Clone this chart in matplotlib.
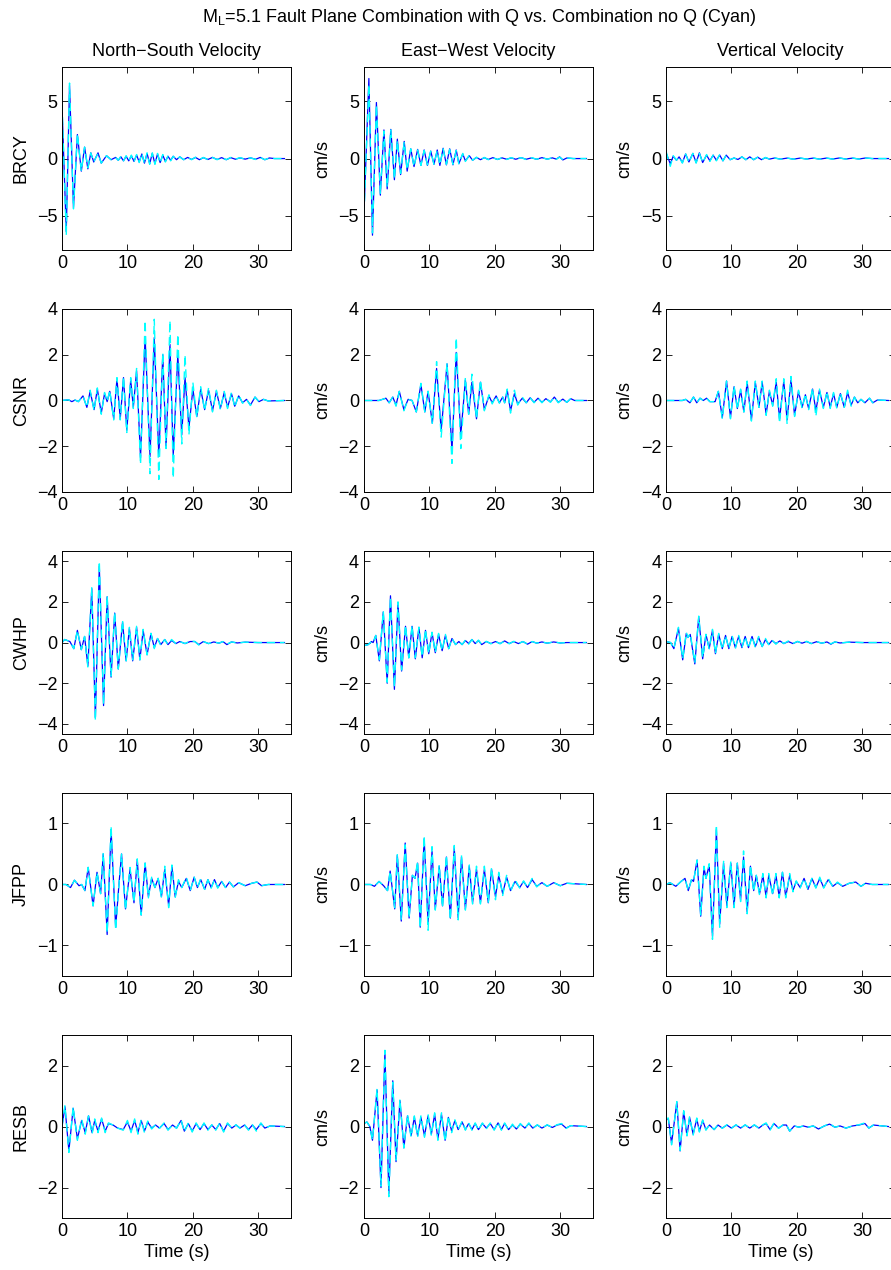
import matplotlib
matplotlib.use('Agg')
import matplotlib.pyplot as plt

plt.rcParams['font.family'] = ['Liberation Sans', 'DejaVu Sans']
plt.rcParams['font.size'] = 13
plt.rcParams['mathtext.fontset'] = 'custom'
plt.rcParams['mathtext.rm'] = 'Liberation Sans'
plt.rcParams['mathtext.default'] = 'regular'

stations = ['BRCY', 'CSNR', 'CWHP', 'JFPP', 'RESB']
col_titles = ['North\u2212South Velocity', 'East\u2212West Velocity', 'Vertical Velocity']
y_limits = [8, 4, 4.5, 1.5, 3]
y_ticks = [[-5, 0, 5], [-4, -2, 0, 2, 4], [-4, -2, 0, 2, 4], [-1, 0, 1], [-2, 0, 2]]
x_ticks = [0, 10, 20, 30]

# extrema of each trace: time (s), with Q (blue), no Q (cyan)
brcy_ns_t = [0, 0.65, 1.15, 1.75, 2.35, 2.95, 3.45, 3.95, 4.4, 4.85, 5.5, 6.0, 6.8, 7.5, 8.2, 8.6, 9.0, 9.4, 9.8, 10.2,
             10.6, 11.0, 11.4, 11.8, 12.2, 12.6, 13.0, 13.4, 13.8, 14.2, 14.6, 15.0, 15.4, 15.8, 16.2, 16.6, 17.0, 17.5,
             18.0, 18.6, 19.2, 19.8, 20.4, 21.0, 21.6, 22.3, 23.0, 23.7, 24.4, 25.1, 25.8, 26.5, 27.2, 28.0, 28.8, 29.6,
             30.3, 31.0, 31.7, 32.5, 34.0]
brcy_ns_q = [4.6, -6.4, 6.4, -4.3, 2.1, -1.1, 1.0, -0.9, 0.5, -0.3, 0.5, -0.4, 0.25, -0.1, 0.1, -0.15, 0.15, -0.2, 0.2,
             -0.2, 0.25, -0.25, 0.3, -0.3, 0.4, -0.4, 0.45, -0.45, 0.45, -0.45, 0.4, -0.35, 0.3, -0.25, 0.2, -0.15, 0.2,
             -0.1, 0.15, -0.1, 0.1, -0.08, 0.1, -0.1, 0.08, -0.08, 0.1, -0.08, 0.08, -0.1, 0.08, -0.06, 0.06, -0.05,
             0.06, -0.06, 0.1, -0.1, 0.05, 0.0, 0.0]
brcy_ns_nq = [4.8, -6.7, 6.6, -4.4, 2.2, -1.1, 1.0, -0.8, 0.5, -0.3, 0.45, -0.4, 0.25, -0.1, 0.1, -0.15, 0.2, -0.2, 0.25,
              -0.2, 0.3, -0.3, 0.35, -0.35, 0.45, -0.45, 0.5, -0.5, 0.5, -0.5, 0.45, -0.4, 0.35, -0.3, 0.25, -0.2, 0.2,
              -0.1, 0.15, -0.1, 0.1, -0.1, 0.12, -0.1, 0.1, -0.1, 0.1, -0.1, 0.1, -0.1, 0.1, -0.06, 0.08, -0.06, 0.06,
              -0.08, 0.1, -0.1, 0.05, 0.0, 0.0]

brcy_ew_t = [0, 0.75, 1.3, 1.9, 2.5, 3.05, 3.55, 4.1, 4.65, 5.1, 5.6, 6.15, 6.6, 7.15, 7.65, 8.2, 8.7, 9.2, 9.7, 10.2,
             10.7, 11.2, 11.6, 12.1, 12.6, 13.1, 13.6, 14.1, 14.5, 15.1, 15.5, 16.1, 16.6, 17.2, 17.8, 18.4, 19.0, 19.7,
             20.4, 21.1, 21.8, 22.5, 23.2, 24.0, 24.8, 25.6, 26.4, 27.2, 28.0, 28.8, 29.4, 29.9, 30.4, 31.0, 32.0, 34.0]
brcy_ew_q = [-4.8, 7.0, -6.7, 4.9, -3.2, 2.5, -2.65, 2.55, -1.85, 1.7, -1.4, 1.5, -1.1, 0.85, -0.7, 0.8, -0.6, 0.75,
             -0.6, 0.65, -0.5, 0.75, -0.6, 0.9, -0.55, 0.85, -0.55, 0.75, -0.45, 0.4, -0.2, 0.25, -0.15, 0.1, -0.1,
             0.08, -0.08, 0.08, -0.08, 0.06, -0.06, 0.06, -0.06, 0.08, -0.06, 0.06, -0.06, 0.08, -0.05, 0.06, -0.05,
             0.15, -0.12, 0.05, 0.0, 0.0]
brcy_ew_nq = [-4.9, 6.5, -6.5, 4.7, -3.1, 2.4, -2.5, 2.5, -1.8, 1.6, -1.3, 1.45, -1.0, 0.85, -0.7, 0.75, -0.6, 0.7,
              -0.55, 0.65, -0.5, 0.7, -0.55, 0.85, -0.5, 0.8, -0.5, 0.7, -0.45, 0.45, -0.25, 0.3, -0.15, 0.12, -0.12,
              0.1, -0.1, 0.08, -0.08, 0.08, -0.08, 0.08, -0.06, 0.08, -0.08, 0.08, -0.06, 0.1, -0.06, 0.08, -0.06,
              0.12, -0.1, 0.05, 0.0, 0.0]

brcy_z_t = [0, 0.65, 1.1, 1.6, 2.0, 2.5, 3.0, 3.5, 4.1, 4.6, 5.1, 5.6, 6.2, 6.7, 7.2, 7.7, 8.2, 8.7, 9.2, 9.8, 10.4,
            11.0, 11.6, 12.2, 12.8, 13.4, 14.0, 14.6, 15.2, 15.8, 16.6, 17.5, 18.5, 19.5, 20.5, 21.5, 22.5, 23.5, 24.5,
            25.5, 26.5, 27.5, 28.5, 29.5, 30.5, 31.5, 34.0]
brcy_z_q = [0.5, -0.45, 0.2, -0.15, 0.15, -0.35, 0.4, -0.3, 0.45, -0.35, 0.5, -0.35, 0.3, -0.2, 0.3, -0.15, 0.3, -0.2,
            0.3, -0.1, 0.05, -0.08, 0.15, -0.1, 0.15, -0.1, 0.12, -0.1, 0.08, -0.05, 0.05, -0.05, 0.04, -0.05, 0.04,
            -0.04, 0.04, -0.05, 0.04, -0.04, 0.05, -0.04, 0.04, -0.04, 0.05, 0.0, 0.0]
brcy_z_nq = [0.65, -0.68, 0.25, -0.15, 0.15, -0.4, 0.4, -0.35, 0.45, -0.4, 0.45, -0.35, 0.35, -0.25, 0.3, -0.2, 0.35,
             -0.2, 0.3, -0.1, 0.05, -0.1, 0.15, -0.1, 0.15, -0.1, 0.12, -0.1, 0.1, -0.05, 0.05, -0.06, 0.05, -0.06,
             0.05, -0.05, 0.05, -0.06, 0.05, -0.05, 0.05, -0.05, 0.05, -0.05, 0.05, 0.0, 0.0]

csnr_ns_t = [0, 1.0, 1.5, 2.0, 2.5, 3.2, 3.8, 4.3, 4.9, 5.4, 6.0, 6.5, 6.9, 7.3, 7.9, 8.4, 8.9, 9.4, 9.9, 10.5, 10.9,
             11.4, 12.0, 12.7, 13.45, 14.1, 14.8, 15.4, 15.9, 16.5, 17.0, 17.7, 18.3, 18.8, 19.4, 20.0, 20.6, 21.2,
             21.8, 22.4, 23.0, 23.6, 24.2, 24.8, 25.3, 25.9, 26.4, 27.0, 27.6, 28.2, 28.8, 29.5, 30.1, 30.8, 31.5, 34.0]
csnr_ns_q = [0.0, 0.03, -0.05, 0.02, -0.05, 0.2, -0.3, 0.4, -0.4, 0.5, -0.55, 0.3, -0.05, 0.4, -0.8, 0.95, -0.8, 1.0,
             -1.3, 0.9, -0.3, 1.3, -2.5, 2.8, -2.45, 2.75, -2.45, 2.0, -2.05, 2.45, -2.4, 2.0, -1.5, 1.0, -1.2, 0.5,
             -0.7, 0.5, -0.4, 0.45, -0.45, 0.4, -0.35, 0.35, -0.3, 0.3, -0.25, 0.2, -0.1, 0.05, -0.2, 0.15, -0.05,
             0.05, -0.02, 0.0]
csnr_ns_nq = [0.0, 0.03, -0.05, 0.02, -0.05, 0.2, -0.3, 0.45, -0.45, 0.55, -0.6, 0.35, -0.05, 0.45, -0.85, 1.0, -0.85,
              1.05, -1.4, 1.0, -0.35, 1.4, -2.8, 3.5, -3.2, 3.55, -3.45, 2.1, -2.1, 3.5, -3.4, 2.9, -1.9, 2.0, -1.5,
              0.8, -0.75, 0.6, -0.45, 0.55, -0.5, 0.45, -0.4, 0.4, -0.35, 0.35, -0.3, 0.25, -0.12, 0.05, -0.22, 0.15,
              -0.05, 0.05, -0.02, 0.0]

csnr_ew_t = [0, 1.5, 2.3, 3.35, 3.85, 4.4, 4.9, 5.4, 6.1, 6.75, 7.35, 8.0, 8.7, 9.3, 9.8, 10.45, 11.1, 11.8, 12.7,
             13.45, 14.1, 14.8, 15.5, 16.0, 16.5, 17.2, 17.8, 18.4, 19.1, 19.6, 20.2, 20.7, 21.2, 21.5, 21.9, 22.4,
             23.0, 23.5, 24.2, 24.8, 25.4, 26.0, 26.6, 27.2, 27.8, 28.5, 29.1, 29.7, 30.4, 31.0, 31.6, 32.2, 34.0]
csnr_ew_q = [0.0, 0.0, 0.0, 0.1, -0.1, 0.15, -0.2, 0.4, -0.4, 0.05, 0.0, -0.5, 0.7, -0.5, 0.4, -1.0, 1.4, -1.3, 1.6,
             -2.2, 2.1, -1.5, 0.9, -0.6, 0.8, -0.8, 0.8, -0.4, 0.2, -0.1, 0.2, -0.1, 0.15, -0.1, 0.45, -0.45, 0.3,
             -0.15, 0.1, -0.1, 0.12, -0.08, 0.1, -0.08, 0.08, -0.06, 0.15, -0.08, 0.06, -0.08, 0.08, 0.0, 0.0]
csnr_ew_nq = [0.0, 0.0, 0.0, 0.1, -0.1, 0.15, -0.25, 0.4, -0.45, 0.05, 0.0, -0.5, 0.75, -0.5, 0.4, -1.0, 1.7, -1.6,
              1.65, -2.75, 2.75, -2.1, 1.0, -0.6, 1.15, -0.8, 0.9, -0.45, 0.25, -0.15, 0.2, -0.12, 0.15, -0.1, 0.5,
              -0.55, 0.45, -0.2, 0.15, -0.1, 0.12, -0.1, 0.1, -0.1, 0.1, -0.08, 0.15, -0.1, 0.08, -0.08, 0.08, 0.0,
              0.0]

csnr_z_t = [0, 2.5, 3.0, 3.65, 4.2, 4.7, 5.2, 5.7, 6.2, 6.7, 7.5, 8.0, 8.6, 9.25, 9.85, 10.4, 10.9, 11.4, 11.9, 12.4,
            13.05, 13.65, 14.2, 14.7, 15.3, 15.8, 16.3, 16.85, 17.35, 18.0, 18.5, 19.1, 19.65, 20.25, 20.8, 21.3, 21.8,
            22.4, 22.9, 23.45, 24.05, 24.6, 25.1, 25.6, 26.1, 26.65, 27.25, 27.75, 28.3, 28.8, 29.3, 29.8, 30.4, 31.1,
            31.6, 32.3, 34.0]
csnr_z_q = [0.0, 0.0, 0.05, -0.1, 0.15, -0.1, 0.1, 0.0, 0.1, -0.05, -0.05, 0.4, -0.75, 0.85, -0.75, 0.6, -0.35, 0.45,
            -0.5, 0.8, -0.85, 0.8, -0.3, 0.8, -0.6, 0.4, -0.2, 0.8, -0.8, 0.85, -0.85, 0.9, -0.65, 0.4, -0.3, 0.25,
            -0.35, 0.5, -0.45, 0.45, -0.3, 0.35, -0.3, 0.3, -0.3, 0.3, -0.3, 0.35, -0.2, 0.15, -0.1, 0.05, -0.1, 0.1,
            -0.1, 0.02, 0.0]
csnr_z_nq = [0.0, 0.0, 0.05, -0.1, 0.15, -0.1, 0.1, 0.0, 0.1, -0.05, -0.05, 0.4, -0.8, 0.85, -0.8, 0.65, -0.4, 0.5,
             -0.5, 0.85, -0.9, 0.85, -0.3, 0.85, -0.65, 0.45, -0.25, 0.95, -1.0, 0.95, -1.0, 1.05, -0.7, 0.45, -0.35,
             0.3, -0.4, 0.55, -0.7, 0.5, -0.35, 0.4, -0.35, 0.35, -0.35, 0.35, -0.3, 0.45, -0.25, 0.15, -0.12, 0.05,
             -0.1, 0.1, -0.1, 0.02, 0.0]

cwhp_ns_t = [0, 0.4, 1.2, 1.8, 2.35, 2.95, 3.45, 3.95, 4.55, 5.1, 5.7, 6.35, 6.9, 7.5, 8.05, 8.6, 9.25, 9.8, 10.3, 10.8,
             11.4, 11.9, 12.4, 13.0, 13.6, 14.1, 14.6, 15.1, 15.7, 16.2, 16.75, 17.4, 18.0, 18.8, 19.6, 20.3, 20.9,
             21.6, 22.4, 23.2, 24.0, 24.6, 25.2, 25.9, 26.8, 28.0, 30.0, 34.0]
cwhp_ns_q = [0.0, 0.15, 0.05, -0.3, 0.6, -0.35, 0.3, -1.15, 2.65, -3.7, 3.75, -3.1, 2.25, -1.7, 1.45, -1.3, 1.0, -0.9,
             0.7, -0.9, 0.75, -0.85, 0.6, -0.6, 0.45, -0.25, 0.2, -0.1, 0.15, -0.1, 0.1, -0.05, 0.05, -0.05, 0.05,
             0.05, -0.1, 0.05, -0.05, 0.03, -0.03, 0.05, -0.1, 0.03, -0.02, 0.02, 0.0, 0.0]
cwhp_ns_nq = [0.0, 0.15, 0.05, -0.3, 0.6, -0.35, 0.3, -1.2, 2.7, -3.85, 4.0, -3.05, 2.3, -1.65, 1.5, -1.3, 1.1, -0.9,
              0.75, -0.85, 0.8, -0.85, 0.65, -0.6, 0.45, -0.3, 0.2, -0.15, 0.15, -0.1, 0.15, -0.05, 0.05, -0.05, 0.08,
              0.05, -0.12, 0.05, -0.05, 0.03, -0.03, 0.05, -0.08, 0.03, -0.02, 0.02, 0.0, 0.0]

cwhp_ew_t = [0, 0.65, 1.15, 1.4, 1.8, 2.35, 2.95, 3.55, 4.05, 4.65, 5.2, 5.75, 6.35, 6.85, 7.35, 7.85, 8.4, 8.9, 9.4,
             9.9, 10.4, 10.9, 11.4, 11.95, 12.45, 12.95, 13.45, 14.0, 14.5, 15.0, 15.5, 16.0, 16.5, 17.0, 17.5, 18.0,
             18.7, 19.4, 20.1, 20.8, 21.5, 22.2, 22.9, 23.6, 24.3, 25.0, 25.7, 26.4, 27.2, 28.0, 29.0, 30.0, 31.0, 34.0]
cwhp_ew_q = [-0.15, -0.1, 0.05, 0.0, 0.35, -0.9, 1.5, -2.0, 2.3, -2.3, 1.95, -1.4, 0.8, -0.75, 0.8, -0.8, 0.75, -0.75,
             0.6, -0.55, 0.5, -0.5, 0.4, -0.4, 0.35, -0.3, 0.2, -0.1, 0.05, -0.1, 0.1, -0.05, 0.15, -0.05, 0.1, -0.1,
             0.05, -0.05, 0.05, -0.05, 0.08, -0.05, 0.05, -0.05, 0.05, -0.08, 0.05, -0.03, 0.03, -0.03, 0.03, -0.02,
             0.0, 0.0]
cwhp_ew_nq = [-0.15, -0.1, 0.05, 0.0, 0.35, -0.85, 1.55, -1.95, 2.25, -2.2, 2.0, -1.35, 0.85, -0.75, 0.85, -0.75, 0.75,
              -0.7, 0.65, -0.55, 0.5, -0.5, 0.45, -0.4, 0.4, -0.3, 0.2, -0.1, 0.08, -0.1, 0.12, -0.08, 0.15, -0.08,
              0.12, -0.1, 0.06, -0.06, 0.06, -0.06, 0.08, -0.06, 0.06, -0.05, 0.05, -0.08, 0.05, -0.03, 0.03, -0.03,
              0.03, -0.02, 0.0, 0.0]

cwhp_z_t = [0, 0.7, 1.2, 1.9, 2.55, 3.1, 3.35, 3.7, 4.4, 5.0, 5.6, 6.1, 6.6, 7.1, 7.55, 8.05, 8.6, 9.1, 9.6, 10.1,
            10.6, 11.1, 11.6, 12.1, 12.6, 13.15, 13.65, 14.15, 14.7, 15.2, 15.7, 16.2, 16.8, 17.4, 18.0, 18.7, 19.4,
            20.1, 20.8, 21.5, 22.2, 23.0, 23.8, 24.6, 25.2, 25.8, 26.6, 28.0, 30.0, 34.0]
cwhp_z_q = [0.05, 0.0, -0.3, 0.7, -0.85, 0.45, 0.25, 0.4, -1.05, 1.25, -0.8, 0.4, -0.3, 0.6, -0.55, 0.4, -0.3, 0.35,
            -0.3, 0.3, -0.25, 0.3, -0.25, 0.3, -0.25, 0.3, -0.2, 0.25, -0.2, 0.15, -0.1, 0.1, -0.05, 0.08, -0.05,
            0.05, -0.05, 0.05, -0.03, 0.05, -0.05, 0.04, -0.03, 0.03, -0.08, 0.03, -0.02, 0.02, 0.0, 0.0]
cwhp_z_nq = [0.05, 0.0, -0.3, 0.75, -0.8, 0.5, 0.25, 0.45, -1.0, 1.3, -0.75, 0.4, -0.3, 0.65, -0.55, 0.45, -0.35,
             0.35, -0.3, 0.35, -0.3, 0.35, -0.25, 0.3, -0.3, 0.3, -0.25, 0.3, -0.2, 0.2, -0.1, 0.12, -0.08, 0.1,
             -0.05, 0.08, -0.05, 0.06, -0.05, 0.06, -0.05, 0.05, -0.03, 0.03, -0.06, 0.03, -0.02, 0.02, 0.0, 0.0]

jfpp_ns_t = [0, 0.6, 1.3, 1.9, 2.6, 3.0, 3.5, 4.0, 4.75, 5.35, 5.9, 6.3, 6.9, 7.5, 8.2, 8.7, 9.1, 9.7, 10.4, 11.0,
             11.5, 12.1, 12.7, 13.2, 13.7, 14.2, 14.7, 15.2, 15.7, 16.3, 16.8, 17.3, 17.8, 18.3, 19.0, 19.6, 20.2,
             20.7, 21.2, 21.8, 22.3, 22.8, 23.3, 23.8, 24.4, 25.0, 25.6, 26.2, 27.0, 28.0, 29.0, 29.8, 30.5, 31.5, 34.0]
jfpp_ns_q = [0.0, 0.0, -0.05, 0.07, -0.02, 0.0, -0.1, 0.28, -0.35, 0.2, -0.15, 0.5, -0.82, 0.9, -0.7, 0.0, 0.5, -0.4,
             0.25, -0.3, 0.4, -0.5, 0.35, -0.2, 0.1, -0.05, 0.1, -0.2, 0.25, -0.35, 0.3, -0.2, 0.05, -0.05, 0.1, -0.1,
             0.12, -0.05, 0.08, -0.08, 0.08, -0.05, 0.08, -0.05, 0.05, -0.05, 0.04, -0.04, 0.03, -0.02, 0.02, 0.04,
             -0.02, 0.0, 0.0]
jfpp_ns_nq = [0.0, 0.0, -0.05, 0.07, -0.02, 0.0, -0.1, 0.28, -0.35, 0.2, -0.15, 0.52, -0.8, 0.96, -0.75, 0.0, 0.5,
              -0.42, 0.28, -0.3, 0.42, -0.5, 0.35, -0.22, 0.12, -0.05, 0.1, -0.22, 0.3, -0.38, 0.32, -0.22, 0.08,
              -0.05, 0.12, -0.1, 0.12, -0.06, 0.1, -0.08, 0.08, -0.06, 0.08, -0.06, 0.05, -0.05, 0.04, -0.04, 0.03,
              -0.02, 0.02, 0.04, -0.02, 0.0, 0.0]

jfpp_ew_t = [0, 1.0, 1.6, 2.3, 3.0, 3.6, 4.0, 4.7, 5.1, 5.7, 6.3, 6.9, 7.4, 7.8, 8.2, 8.6, 9.2, 9.8, 10.4, 10.9, 11.5,
             12.0, 12.6, 13.2, 13.8, 14.4, 14.9, 15.5, 16.1, 16.6, 17.2, 17.8, 18.4, 19.0, 19.5, 20.1, 20.6, 21.2,
             21.8, 22.4, 23.1, 23.8, 24.4, 25.0, 25.7, 26.4, 27.2, 28.0, 29.0, 30.0, 31.0, 34.0]
jfpp_ew_q = [0.0, 0.0, -0.03, 0.05, -0.02, -0.1, 0.22, -0.4, 0.48, -0.6, 0.68, -0.55, 0.15, 0.1, 0.35, -0.7, 0.75,
             -0.62, 0.55, -0.4, 0.3, -0.35, 0.45, -0.55, 0.6, -0.55, 0.45, -0.4, 0.3, -0.3, 0.25, -0.3, 0.25, -0.3,
             0.25, -0.2, 0.15, -0.15, 0.12, -0.1, 0.05, -0.05, 0.05, -0.05, 0.08, -0.03, 0.03, -0.03, 0.03, -0.02,
             0.02, 0.0]
jfpp_ew_nq = [0.0, 0.0, -0.03, 0.05, -0.02, -0.1, 0.22, -0.38, 0.5, -0.58, 0.65, -0.55, 0.15, 0.1, 0.38, -0.72, 0.8,
              -0.75, 0.62, -0.42, 0.32, -0.38, 0.48, -0.58, 0.64, -0.58, 0.48, -0.42, 0.32, -0.32, 0.3, -0.32, 0.3,
              -0.3, 0.28, -0.25, 0.2, -0.18, 0.15, -0.12, 0.08, -0.06, 0.06, -0.05, 0.1, -0.04, 0.04, -0.03, 0.03,
              -0.02, 0.02, 0.0]

jfpp_z_t = [0, 0.6, 1.5, 2.3, 2.9, 3.4, 3.9, 4.2, 4.75, 5.3, 5.8, 6.1, 6.6, 7.1, 7.7, 8.2, 8.8, 9.3, 9.9, 10.4, 10.9,
            11.4, 11.85, 12.4, 12.9, 13.4, 13.8, 14.3, 14.8, 15.3, 15.7, 16.3, 16.8, 17.3, 17.8, 18.3, 18.9, 19.4,
            19.9, 20.5, 21.1, 21.7, 22.3, 22.9, 23.5, 24.1, 24.8, 25.5, 26.2, 27.0, 28.0, 29.0, 29.8, 30.5, 31.5, 34.0]
jfpp_z_q = [0.0, 0.03, -0.03, 0.05, 0.1, -0.1, 0.08, 0.05, 0.4, -0.52, 0.28, 0.1, 0.32, -0.85, 0.9, -0.65, 0.35,
            -0.35, 0.35, -0.35, 0.35, -0.25, 0.45, -0.45, 0.3, -0.1, 0.15, -0.15, 0.15, -0.2, 0.15, -0.15, 0.15, -0.2,
            0.2, -0.2, 0.15, -0.1, 0.05, -0.05, 0.1, -0.08, 0.1, -0.05, 0.1, -0.05, 0.08, -0.03, 0.03, -0.03, 0.02,
            0.04, -0.03, 0.02, 0.0, 0.0]
jfpp_z_nq = [0.0, 0.03, -0.03, 0.05, 0.1, -0.1, 0.08, 0.05, 0.4, -0.5, 0.3, 0.1, 0.34, -0.9, 0.98, -0.7, 0.38, -0.38,
             0.38, -0.38, 0.35, -0.28, 0.55, -0.48, 0.32, -0.12, 0.15, -0.18, 0.18, -0.22, 0.18, -0.18, 0.18, -0.22,
             0.2, -0.22, 0.18, -0.12, 0.06, -0.06, 0.1, -0.08, 0.1, -0.06, 0.12, -0.06, 0.1, -0.04, 0.04, -0.03, 0.02,
             0.04, -0.03, 0.02, 0.0, 0.0]

resb_ns_t = [0, 0.45, 1.05, 1.7, 2.35, 3.0, 3.55, 4.05, 4.6, 5.0, 5.5, 6.05, 6.6, 7.1, 7.8, 8.5, 9.35, 10.0, 10.55,
             11.1, 11.6, 12.1, 12.6, 13.1, 13.7, 14.3, 14.9, 15.6, 16.2, 16.9, 17.5, 18.2, 18.7, 19.3, 19.9, 20.5,
             21.1, 21.7, 22.3, 22.9, 23.5, 24.1, 24.7, 25.3, 25.95, 26.6, 27.2, 27.9, 28.5, 29.1, 29.7, 30.4, 31.0,
             31.8, 34.0]
resb_ns_q = [0.0, 0.65, -0.8, 0.6, -0.4, 0.2, -0.2, 0.35, -0.2, 0.2, -0.15, 0.25, -0.15, 0.1, 0.05, -0.05, -0.1, 0.15,
             -0.15, 0.2, -0.2, 0.2, -0.15, 0.15, -0.05, 0.05, -0.05, 0.1, -0.1, 0.05, -0.05, 0.2, -0.15, 0.1, -0.15,
             0.1, -0.1, 0.1, -0.1, 0.05, -0.1, 0.1, -0.15, 0.1, -0.05, 0.05, -0.05, 0.05, -0.1, 0.05, -0.1, 0.1,
             -0.05, 0.02, 0.0]
resb_ns_nq = [0.0, 0.7, -0.85, 0.65, -0.45, 0.25, -0.25, 0.35, -0.25, 0.25, -0.2, 0.28, -0.2, 0.12, 0.05, -0.05,
              -0.12, 0.2, -0.2, 0.25, -0.25, 0.22, -0.2, 0.18, -0.08, 0.06, -0.06, 0.12, -0.12, 0.06, -0.06, 0.22,
              -0.18, 0.12, -0.18, 0.12, -0.12, 0.12, -0.12, 0.06, -0.12, 0.12, -0.18, 0.12, -0.06, 0.06, -0.06, 0.06,
              -0.12, 0.06, -0.15, 0.12, -0.06, 0.02, 0.0]

resb_ew_t = [0, 0.45, 0.9, 1.3, 2.0, 2.6, 3.2, 3.8, 4.4, 4.9, 5.5, 6.1, 6.65, 7.2, 7.7, 8.2, 8.7, 9.25, 9.8, 10.3, 10.8,
             11.3, 11.85, 12.4, 12.9, 13.4, 13.9, 14.4, 15.0, 15.5, 16.0, 16.5, 17.0, 17.5, 18.1, 18.7, 19.3, 19.9,
             20.5, 21.0, 21.5, 22.1, 22.7, 23.3, 23.9, 24.6, 25.2, 25.8, 26.5, 27.2, 28.0, 28.8, 29.5, 30.2, 30.9,
             31.6, 34.0]
resb_ew_q = [0.1, 0.15, 0.0, -0.45, 1.2, -2.0, 2.45, -2.2, 1.5, -1.15, 0.85, -0.7, 0.35, -0.3, 0.3, -0.3, 0.3, -0.3,
             0.35, -0.25, 0.4, -0.4, 0.4, -0.45, 0.3, -0.15, 0.2, -0.1, 0.15, -0.1, 0.1, -0.1, 0.1, -0.1, 0.1, -0.05,
             0.1, -0.1, 0.12, -0.1, 0.1, -0.1, 0.05, -0.08, 0.08, -0.05, 0.1, -0.05, 0.05, -0.05, 0.05, -0.03, 0.05,
             0.08, -0.05, 0.03, 0.0]
resb_ew_nq = [0.1, 0.15, 0.0, -0.45, 1.25, -1.95, 2.5, -2.3, 1.45, -1.1, 0.9, -0.7, 0.4, -0.35, 0.35, -0.35, 0.35,
              -0.35, 0.4, -0.3, 0.45, -0.45, 0.45, -0.5, 0.35, -0.2, 0.22, -0.12, 0.18, -0.12, 0.12, -0.12, 0.12,
              -0.12, 0.12, -0.08, 0.12, -0.12, 0.15, -0.12, 0.12, -0.12, 0.08, -0.1, 0.1, -0.06, 0.12, -0.06, 0.06,
              -0.06, 0.06, -0.04, 0.06, 0.1, -0.06, 0.03, 0.0]

resb_z_t = [0, 0.35, 0.85, 1.65, 2.15, 2.7, 3.2, 3.6, 4.15, 4.7, 5.1, 5.6, 6.1, 6.65, 7.35, 7.95, 8.6, 9.3, 10.0, 10.7,
            11.4, 12.1, 12.8, 13.5, 14.2, 14.8, 15.3, 15.9, 16.5, 17.2, 17.9, 18.4, 18.9, 19.6, 20.3, 21.0, 21.7,
            22.5, 23.3, 24.2, 25.0, 25.8, 26.6, 27.5, 28.5, 29.5, 30.4, 31.0, 31.7, 34.0]
resb_z_q = [0.25, 0.25, -0.55, 0.8, -0.8, 0.5, -0.3, 0.3, -0.25, 0.25, -0.15, 0.2, -0.1, 0.05, -0.1, 0.05, -0.05,
            0.05, -0.05, 0.05, -0.05, 0.05, -0.05, 0.05, -0.05, 0.05, 0.1, -0.1, 0.1, -0.05, 0.05, 0.05, -0.15, 0.02,
            -0.02, 0.02, -0.02, 0.02, -0.08, 0.02, 0.08, -0.02, 0.02, -0.05, 0.02, 0.05, 0.1, -0.05, 0.05, 0.0]
resb_z_nq = [0.25, 0.28, -0.6, 0.82, -0.78, 0.52, -0.3, 0.32, -0.28, 0.28, -0.18, 0.22, -0.12, 0.06, -0.1, 0.06,
             -0.06, 0.06, -0.06, 0.06, -0.06, 0.06, -0.06, 0.06, -0.06, 0.06, 0.12, -0.12, 0.12, -0.06, 0.06, 0.06,
             -0.15, 0.02, -0.02, 0.02, -0.02, 0.02, -0.08, 0.02, 0.1, -0.02, 0.02, -0.05, 0.02, 0.06, 0.12, -0.05,
             0.05, 0.0]

traces = [
    [(brcy_ns_t, brcy_ns_q, brcy_ns_nq), (brcy_ew_t, brcy_ew_q, brcy_ew_nq), (brcy_z_t, brcy_z_q, brcy_z_nq)],
    [(csnr_ns_t, csnr_ns_q, csnr_ns_nq), (csnr_ew_t, csnr_ew_q, csnr_ew_nq), (csnr_z_t, csnr_z_q, csnr_z_nq)],
    [(cwhp_ns_t, cwhp_ns_q, cwhp_ns_nq), (cwhp_ew_t, cwhp_ew_q, cwhp_ew_nq), (cwhp_z_t, cwhp_z_q, cwhp_z_nq)],
    [(jfpp_ns_t, jfpp_ns_q, jfpp_ns_nq), (jfpp_ew_t, jfpp_ew_q, jfpp_ew_nq), (jfpp_z_t, jfpp_z_q, jfpp_z_nq)],
    [(resb_ns_t, resb_ns_q, resb_ns_nq), (resb_ew_t, resb_ew_q, resb_ew_nq), (resb_z_t, resb_z_q, resb_z_nq)],
]

fig = plt.figure(figsize=(8.91, 12.70), dpi=100)

col_left = [0.0696, 0.4085, 0.7475]
row_bottom = [0.8031, 0.6126, 0.4220, 0.2315, 0.0409]
width, height = 0.257, 0.1441

for i, station in enumerate(stations):
    for j in range(3):
        t, q, nq = traces[i][j]
        n = min(len(t), len(q), len(nq))
        ax = fig.add_axes([col_left[j], row_bottom[i], width, height])
        ax.plot(t[:n], q[:n], color='#0000ff', lw=0.9)
        ax.plot(t[:n], nq[:n], color='#00ffff', lw=1.0, ls=(0, (6, 3.5)))
        ax.set_xlim(0, 35)
        ax.set_ylim(-y_limits[i], y_limits[i])
        ax.set_xticks(x_ticks)
        ax.set_yticks(y_ticks[i])
        ax.tick_params(direction='in', top=True, right=True, length=4, width=0.6, labelsize=13)
        for sp in ax.spines.values():
            sp.set_linewidth(0.7)
        ax.set_ylabel(station if j == 0 else 'cm/s', labelpad=5)
        if i == 0:
            ax.set_title(col_titles[j], fontsize=13, pad=8)
        if i == len(stations) - 1:
            ax.set_xlabel('Time (s)', labelpad=3)

fig.text(0.5375, 0.986, r'M$_\mathrm{L}$=5.1 Fault Plane Combination with Q vs. Combination no Q (Cyan)',
         ha='center', va='center', fontsize=13)

fig.savefig('out.png', dpi=100)
